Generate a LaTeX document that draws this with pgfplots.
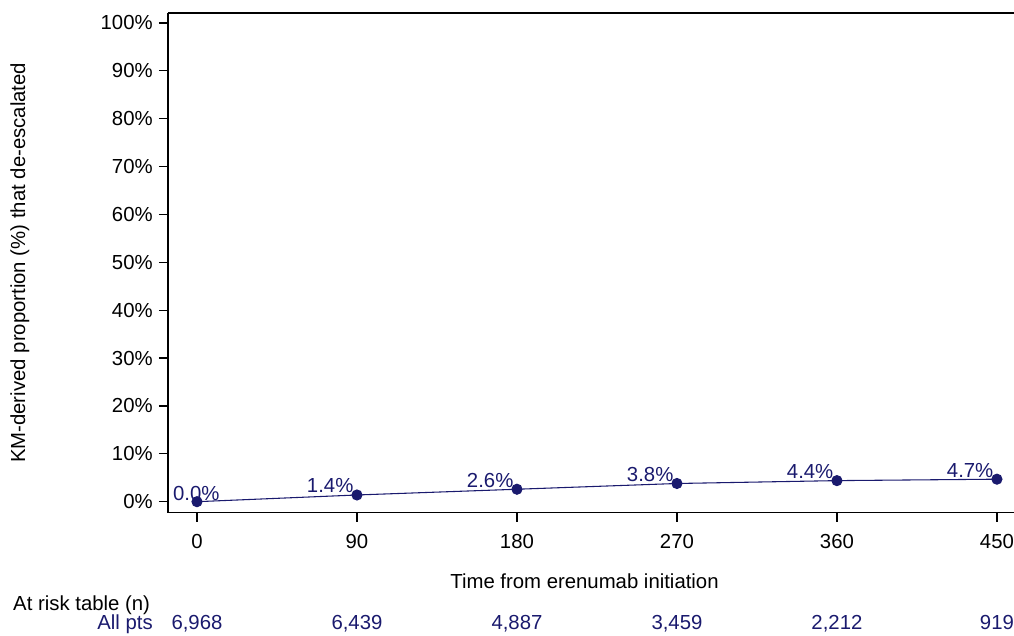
\documentclass[border=0pt]{standalone}
\usepackage{pgfplots}
\pgfplotsset{compat=1.18}
\usepackage{fontspec}
\setmainfont{Liberation Sans}
\definecolor{navyc}{RGB}{26,26,110}
\begin{document}
\begin{tikzpicture}
\begin{axis}[
  scale only axis,
  width=632.25pt, height=373.5pt,
  xmin=-16.3, xmax=459.6,
  ymin=-2.3, ymax=102.1,
  axis x line*=bottom, axis y line*=left,
  axis line style={black, line width=0.9pt},
  xtick={0,90,180,270,360,450},
  ytick={0,10,...,100},
  yticklabel={\pgfmathprintnumber{\tick}\%},
  tick align=outside,
  major tick length=6.9pt,
  tick style={black, line width=0.9pt},
  /pgf/number format/assume math mode=true,
  tick label style={font=\fontsize{15.2}{18}\selectfont},
  yticklabel style={xshift=-1pt},
  xticklabel style={yshift=-5.5pt},
  clip=false,
]
\draw[black, line width=0.9pt] (rel axis cs:0,1) -- (rel axis cs:1,1);
\addplot[color=navyc, line width=0.8pt, mark=*, mark size=3.75pt]
  coordinates {(0,0) (90,1.4) (180,2.6) (270,3.8) (360,4.4) (450,4.7)};
\addplot[draw=none, mark=none,
  nodes near coords={\pgfmathprintnumber[fixed,fixed zerofill,precision=1]{\pgfplotspointmeta}\%},
  nodes near coords style={anchor=base east, inner sep=0pt, xshift=-2.5pt, yshift=1.5pt, text=navyc, font=\fontsize{15.2}{18}\selectfont},
  point meta=explicit]
  coordinates {(90,1.4) [1.4] (180,2.6) [2.6] (270,3.8) [3.8] (360,4.4) [4.4] (450,4.7) [4.7]};
\addplot[draw=none, mark=none,
  nodes near coords={\pgfmathprintnumber[fixed,fixed zerofill,precision=1]{\pgfplotspointmeta}\%},
  nodes near coords style={anchor=base west, inner sep=0pt, xshift=-18pt, yshift=0.8pt, text=navyc, font=\fontsize{15.2}{18}\selectfont},
  point meta=explicit]
  coordinates {(0,0) [0]};
\node[font=\fontsize{15.2}{18}\selectfont, rotate=90, anchor=center] at (axis cs:-99.6,49.9) {KM-derived proportion (\%) that de-escalated};
\node[font=\fontsize{15.2}{18}\selectfont, anchor=center] at (axis cs:218,-16.6) {Time from erenumab initiation};
\node[font=\fontsize{15.2}{18}\selectfont, anchor=base west, inner sep=0pt] at (axis cs:-103.5,-22.64) {At risk table (n)};
\node[font=\fontsize{15.2}{18}\selectfont, anchor=base east, inner sep=0pt, text=navyc] at (axis cs:-24.75,-26.6) {All pts};
\node[font=\fontsize{15.2}{18}\selectfont, anchor=base, inner sep=0pt, text=navyc] at (axis cs:0,-26.6) {6,968};
\node[font=\fontsize{15.2}{18}\selectfont, anchor=base, inner sep=0pt, text=navyc] at (axis cs:90,-26.6) {6,439};
\node[font=\fontsize{15.2}{18}\selectfont, anchor=base, inner sep=0pt, text=navyc] at (axis cs:180,-26.6) {4,887};
\node[font=\fontsize{15.2}{18}\selectfont, anchor=base, inner sep=0pt, text=navyc] at (axis cs:270,-26.6) {3,459};
\node[font=\fontsize{15.2}{18}\selectfont, anchor=base, inner sep=0pt, text=navyc] at (axis cs:360,-26.6) {2,212};
\node[font=\fontsize{15.2}{18}\selectfont, anchor=base, inner sep=0pt, text=navyc] at (axis cs:450,-26.6) {919};
\coordinate (BBa) at (axis cs:-110.8,-27.9);
\coordinate (BBb) at (axis cs:459.6,104.8);
\end{axis}
\pgfresetboundingbox
\path (BBa) rectangle (BBb);
\end{tikzpicture}
\end{document}
